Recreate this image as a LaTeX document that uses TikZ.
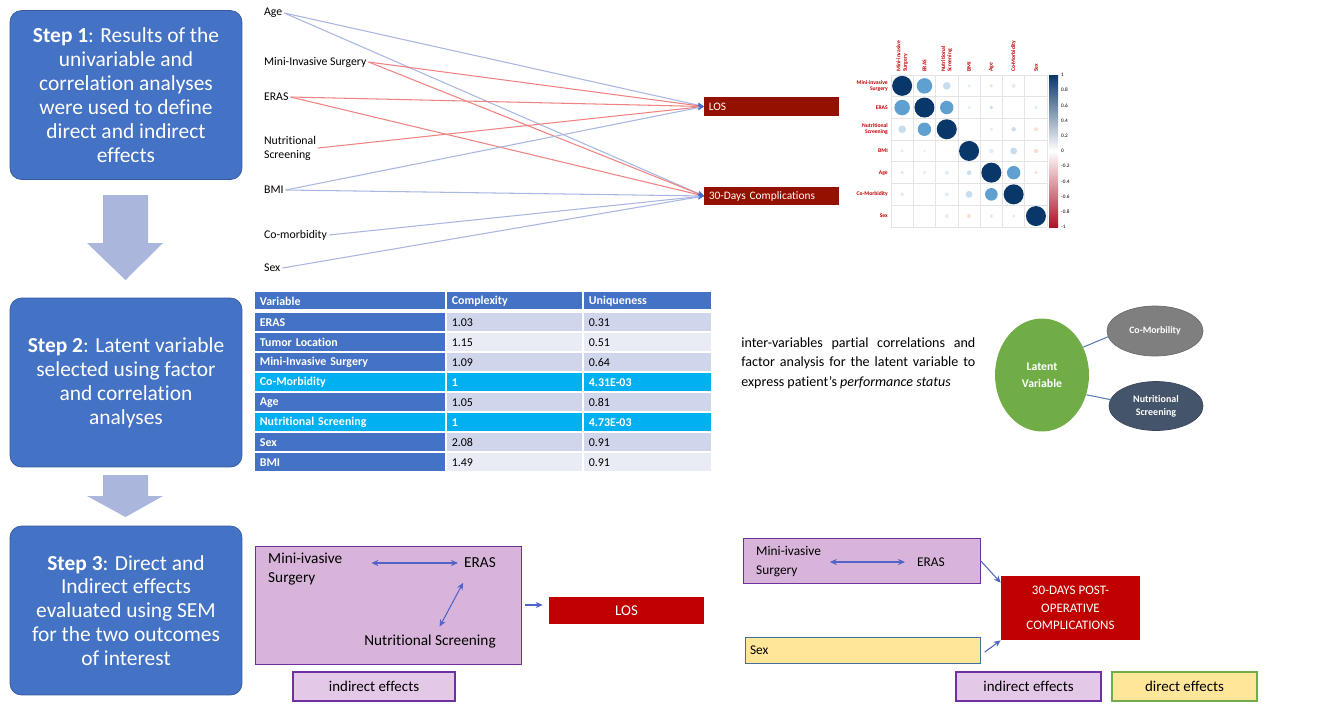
\documentclass[tikz,border=0pt]{standalone}
\usepackage{fontspec}
\setmainfont{Carlito}[Ligatures=NoCommon]
\usetikzlibrary{positioning, shapes.geometric, arrows.meta}

\definecolor{stepblue}{RGB}{68,114,196}
\definecolor{stepedge}{RGB}{52,90,160}
\definecolor{blockarr}{RGB}{170,182,220}
\definecolor{bluline}{RGB}{168,182,226}
\definecolor{redline}{RGB}{240,130,130}
\definecolor{tipblue}{RGB}{70,110,200}
\definecolor{outred}{RGB}{148,17,0}
\definecolor{semred}{RGB}{192,0,0}
\definecolor{rowdark}{RGB}{207,213,234}
\definecolor{rowlight}{RGB}{233,235,245}
\definecolor{hicyan}{RGB}{0,176,240}
\definecolor{latgreen}{RGB}{112,173,71}
\definecolor{mbgrey}{RGB}{127,127,127}
\definecolor{nsslate}{RGB}{68,84,106}
\definecolor{linkblue}{RGB}{91,123,181}
\definecolor{indfill}{RGB}{216,180,218}
\definecolor{indlight}{RGB}{228,200,231}
\definecolor{indedge}{RGB}{112,48,160}
\definecolor{dirfill}{RGB}{255,230,153}
\definecolor{diredge}{RGB}{112,173,71}
\definecolor{sexedge}{RGB}{65,113,156}
\definecolor{semarr}{RGB}{80,100,200}
\definecolor{corlab}{RGB}{192,0,0}
\definecolor{cgrid}{RGB}{228,228,228}
\definecolor{cnavy}{RGB}{10,55,105}
\definecolor{cmid}{RGB}{95,160,208}
\definecolor{cpale}{RGB}{200,222,238}
\definecolor{cfaint}{RGB}{226,237,247}
\definecolor{cpeach}{RGB}{250,222,210}
\definecolor{cdeepred}{RGB}{170,20,40}

\begin{document}
\begin{tikzpicture}[
x=0.02cm, y=-0.02cm,
stepbox/.style={rectangle, rounded corners=6.5pt, fill=stepblue, draw=stepedge, thin, text=white, align=center, minimum width=4.64cm, minimum height=3.38cm, font=\fontsize{12.2}{13.6}\selectfont},
varlabel/.style={anchor=west, align=left, inner sep=1pt, font=\fontsize{6.7}{8}\selectfont},
outbox/.style={rectangle, fill=outred, text=white, anchor=west, inner xsep=0.09cm, inner ysep=0pt, text width=2.52cm, align=left, minimum height=0.37cm, font=\fontsize{6.5}{7.5}\selectfont},
effline/.style={line width=0.6pt, -{Stealth[length=3.5pt, width=3pt, color=tipblue]}},
tabcell/.style={anchor=north west, inner xsep=0.09cm, inner ysep=0pt, align=left, minimum height=0.36cm, font=\fontsize{6.8}{7.5}\selectfont},
tabhead/.style={tabcell, minimum height=0.34cm, fill=stepblue, text=white, font=\fontsize{6.8}{7.5}\selectfont\bfseries},
tabname/.style={tabcell, fill=stepblue, text=white, font=\fontsize{6.8}{7.5}\selectfont\bfseries},
namehi/.style={tabcell, fill=hicyan, text=white, font=\fontsize{6.8}{7.5}\selectfont\bfseries},
valdark/.style={tabcell, fill=rowdark},
vallight/.style={tabcell, fill=rowlight},
valhi/.style={tabcell, fill=hicyan, text=white, font=\fontsize{6.8}{7.5}\selectfont\bfseries},
corlabel/.style={inner sep=0.5pt, text=corlab, font=\fontsize{3.2}{3.6}\selectfont\bfseries},
ticklabel/.style={anchor=west, inner sep=0.5pt, font=\fontsize{3}{3.5}\selectfont},
semtext/.style={align=left, font=\fontsize{8.7}{10.8}\selectfont},
semtextsm/.style={align=left, font=\fontsize{7.6}{10.8}\selectfont},
keybox/.style={rectangle, line width=0.9pt, minimum height=0.58cm, font=\fontsize{8.5}{10}\selectfont},
dblarr/.style={semarr, line width=0.6pt, {Stealth[length=4pt, width=3.5pt]}-{Stealth[length=4pt, width=3.5pt]}},
semarrow/.style={semarr, line width=0.6pt, -{Stealth[length=4pt, width=3.5pt]}}
]
\useasboundingbox (0,0) rectangle (1325,707);

%Steps
\node[stepbox] (step1) at (126,95) {\textbf{Step 1}: Results of the\\univariable and\\correlation analyses\\were used to define\\direct and indirect\\effects};
\node[stepbox] (step2) at (126,382.5) {\textbf{Step 2}: Latent variable\\selected using factor\\and correlation\\analyses};
\node[stepbox] (step3) at (126,610.5) {\textbf{Step 3}: Direct and\\Indirect effects\\evaluated using SEM\\for the two outcomes\\of interest};
\fill[blockarr] (103,195) -- (148,195) -- (148,243) -- (163,243) -- (125.5,280) -- (87,243) -- (103,243) -- cycle;
\fill[blockarr] (103,475) -- (148,475) -- (148,496) -- (163,496) -- (125.5,517) -- (87,496) -- (103,496) -- cycle;

%Step 1: variables and outcomes
\node[varlabel] (age) at (262,13) {Age};
\node[varlabel] (mis) at (262,62) {Mini-Invasive Surgery};
\node[varlabel] (eras) at (262,97) {ERAS};
\node[varlabel] (nutr) at (262,148) {Nutritional\\Screening};
\node[varlabel] (bmi) at (262,190) {BMI};
\node[varlabel] (comorb) at (262,235) {Co-morbidity};
\node[varlabel] (sex) at (262,268) {Sex};
\node[outbox] (los) at (704,106.5) {LOS};
\node[outbox] (comp) at (704,196) {30-Days Complications};

\foreach \i/\j/\col in {% variable/outcome/colour
      age/los/bluline, age/comp/bluline,
      mis/los/redline, mis/comp/redline,
      eras/los/redline, eras/comp/redline,
      nutr/los/redline,
      bmi/los/bluline, bmi/comp/bluline,
      comorb/comp/bluline,
      sex/comp/bluline}
       \draw[effline, \col] (\i.east) -- (\j.west);

%Correlation plot
\foreach \k in {0,...,7} {
  \draw[cgrid, line width=0.4pt] (891+22.3*\k,75) -- (891+22.3*\k,227);
  \draw[cgrid, line width=0.4pt] (891,75+21.7*\k) -- (1047,75+21.7*\k);
}
\foreach \ri/\cj/\v/\col in {% row/column/value/colour
      1/1/1/cnavy, 1/2/0.6/cmid, 1/3/0.15/cpale, 1/4/0.03/cfaint, 1/5/-0.03/cpeach, 1/6/0.04/cfaint,
      2/1/0.6/cmid, 2/2/1/cnavy, 2/3/0.45/cmid, 2/4/0.03/cfaint, 2/5/0.03/cpale, 2/7/0.03/cfaint,
      3/1/0.15/cpale, 3/2/0.45/cmid, 3/3/1/cnavy, 3/5/0.03/cfaint, 3/6/0.05/cpale, 3/7/-0.04/cpeach,
      4/1/0.03/cfaint, 4/2/0.02/cfaint, 4/4/1/cnavy, 4/5/0.05/cfaint, 4/6/0.12/cpale, 4/7/-0.05/cpeach,
      5/1/-0.03/cpeach, 5/2/0.03/cfaint, 5/3/0.05/cfaint, 5/4/0.05/cpale, 5/5/1/cnavy, 5/6/0.45/cmid, 5/7/-0.03/cpeach,
      6/1/-0.03/cpeach, 6/3/0.04/cfaint, 6/4/0.12/cpale, 6/5/0.4/cmid, 6/6/1/cnavy,
      7/3/0.04/cfaint, 7/4/-0.04/cpeach, 7/5/-0.03/cpeach, 7/6/-0.02/cpeach, 7/7/1/cnavy}
       \fill[\col] (879.85+22.3*\cj,64.15+21.7*\ri) circle[radius={10*sqrt(abs(\v))}];
\foreach \lab [count=\ri] in {{Mini-invasive\\Surgery}, ERAS, {Nutritional\\Screening}, BMI, Age, Co-Morbidity, Sex} {
  \node[corlabel, anchor=east, align=right] (rlab\ri) at (889,64.15+21.7*\ri) {\lab};
  \node[corlabel, anchor=west, align=left, rotate=90] (clab\ri) at (879.85+22.3*\ri,73) {\lab};
}
\shade[top color=cnavy, bottom color=cdeepred, middle color=white] (1049,75) rectangle (1058,227);
\foreach \t [count=\q from 0] in {1,0.8,0.6,0.4,0.2,0,-0.2,-0.4,-0.6,-0.8,-1}
  \node[ticklabel] (tick\q) at (1060,75+15.2*\q) {\t};

%Step 2: factor table
\node[tabhead, text width=3.62cm] (hvar) at (255,292) {Variable};
\node[tabhead, text width=2.52cm] (hcpx) at (447,292) {Complexity};
\node[tabhead, text width=2.36cm] (hunq) at (584,292) {Uniqueness};
\foreach \vn/\cx/\uq/\ns/\vs [count=\k] in {% name/complexity/uniqueness/name style/value style
      ERAS/1.03/0.31/tabname/valdark,
      Tumor Location/1.15/0.51/tabname/vallight,
      Mini-Invasive Surgery/1.09/0.64/tabname/valdark,
      Co-Morbidity/1/4.31E-03/namehi/valhi,
      Age/1.05/0.81/tabname/valdark,
      Nutritional Screening/1/4.73E-03/namehi/valhi,
      Sex/2.08/0.91/tabname/valdark,
      BMI/1.49/0.91/tabname/vallight} {
  \node[\ns, text width=3.62cm] (var\k) at (255,293+20*\k) {\vn};
  \node[\vs, text width=2.52cm] (cpx\k) at (447,293+20*\k) {\cx};
  \node[\vs, text width=2.36cm] (unq\k) at (584,293+20*\k) {\uq};
}

%Step 2: latent variable
\node[anchor=north west, text width=4.68cm, align=justify, inner sep=0pt, font=\fontsize{8}{11.3}\selectfont] (para) at (741,337) {inter-variables partial correlations and\linebreak factor analysis for the latent variable to\linebreak express patient’s \textit{performance status}};
\node[ellipse, fill=latgreen, text=white, minimum width=1.88cm, minimum height=2.26cm, inner sep=0pt, align=center, font=\fontsize{6.7}{9.6}\selectfont\bfseries] (latent) at (1042,375) {Latent\\Variable};
\node[ellipse, fill=mbgrey, draw=mbgrey!85!black, text=white, minimum width=1.92cm, minimum height=1cm, inner sep=0pt, font=\fontsize{5.6}{7}\selectfont\bfseries] (cmorb) at (1155,331) {Co-Morbility};
\node[ellipse, fill=nsslate, draw=nsslate!85!black, text=white, minimum width=1.88cm, minimum height=0.98cm, inner sep=0pt, align=center, font=\fontsize{5.7}{7.4}\selectfont\bfseries] (nscr) at (1156,406) {Nutritional\\Screening};
\draw[linkblue, line width=0.6pt] (latent.34) -- (cmorb.187);
\draw[linkblue, line width=0.6pt] (latent.-24) -- (nscr.172);

%Step 3: LOS model
\node[rectangle, fill=indfill, draw=indedge, line width=0.5pt, minimum width=5.32cm, minimum height=2.36cm] (sembox1) at (388,605) {};
\node[semtext, anchor=west] (mis1) at (262,569.5) {Mini-ivasive\\Surgery};
\node[semtext] (eras1) at (480,563) {ERAS};
\node[semtext] (nutr1) at (430,641) {Nutritional Screening};
\node[rectangle, fill=semred, text=white, minimum width=3.1cm, minimum height=0.54cm, font=\fontsize{8.5}{10}\selectfont] (los2) at (626.5,610.5) {LOS};
\node[keybox, fill=indlight, draw=indedge, minimum width=3.24cm] (ind1) at (374,686.5) {indirect effects};
\draw[dblarr, shorten >=13pt] (eras1.west) -- (eras1.west -| mis1.east);
\draw[dblarr, shorten <=5.5pt, shorten >=1pt] ([xshift=-7pt]eras1.south) -- ([xshift=5pt]nutr1.north);
\draw[semarrow, shorten <=2pt, shorten >=3.4pt] (sembox1.east) -- (sembox1.east -| los2.west);

%Step 3: complications model
\node[rectangle, fill=indfill, draw=indedge, line width=0.5pt, minimum width=4.74cm, minimum height=0.9cm] (sembox2) at (861.5,560.5) {};
\node[semtextsm, anchor=west] (mis2) at (750,561.5) {Mini-ivasive\\Surgery};
\node[semtextsm] (eras2) at (931,562) {ERAS};
\node[rectangle, fill=dirfill, draw=sexedge, line width=0.5pt, text width=4.5cm, inner xsep=0.1cm, align=left, minimum height=0.52cm, font=\fontsize{7.6}{9}\selectfont] (sexbox) at (862.5,650) {Sex};
\node[rectangle, fill=semred, text=white, minimum width=2.78cm, minimum height=1.28cm, align=center, font=\fontsize{7.4}{9.9}\selectfont] (comp2) at (1070.5,608) {30-DAYS POST-\\OPERATIVE\\COMPLICATIONS};
\node[keybox, fill=indlight, draw=indedge, minimum width=2.9cm] (ind2) at (1028.5,686.5) {indirect effects};
\node[keybox, fill=dirfill, draw=diredge, minimum width=2.9cm] (dir2) at (1184.5,686.5) {direct effects};
\draw[dblarr, shorten <=3.4pt, shorten >=1.5pt] (eras2.west) -- (eras2.west -| mis2.east);
\draw[semarrow, shorten <=0.5pt] (sembox2.east) -- ([yshift=-4pt]comp2.north west);
\draw[semarrow, shorten <=3pt] ([yshift=-3pt]sexbox.east) -- (comp2.south west);
\end{tikzpicture}
\end{document}
